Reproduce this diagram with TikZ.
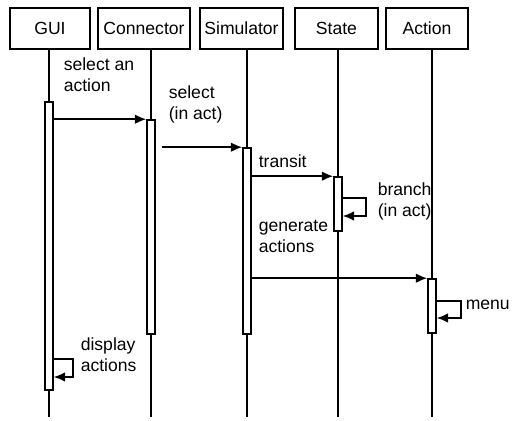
\documentclass[tikz,border=0pt]{standalone}
\usepackage{fontspec}
\setmainfont{Liberation Sans}
\usetikzlibrary{arrows.meta}
\begin{document}
\begin{tikzpicture}[x=0.02cm, y=-0.02cm, line width=0.9pt,
		object/.style = {draw, minimum height=0.82cm, inner sep=0pt, font=\fontsize{10}{12}\selectfont},
		bar/.style = {draw, fill=white, inner sep=0pt, minimum width=0.16cm},
		msg/.style = {-{Latex[length=6.5pt,width=5.5pt]}},
		lbl/.style = {anchor=base west, align=left, inner sep=0pt, font=\fontsize{10}{12}\selectfont}
	]
	\useasboundingbox (0,0) rectangle (515,421);
	% objects
	\node[object, minimum width=1.6cm]  (gui)   at (50,28.5)    {GUI};
	\node[object, minimum width=1.84cm] (conn)  at (144,28.5)   {Connector};
	\node[object, minimum width=1.66cm] (sim)   at (241.5,28.5) {Simulator};
	\node[object, minimum width=1.66cm] (state) at (336.5,28.5) {State};
	\node[object, minimum width=1.64cm] (act)   at (427,28.5)   {Action};
	% life lines
	\foreach \obj/\x in {gui/49, conn/151, sim/247, state/338, act/432}
		\draw (\obj.south -| \x,0) -- (\x,417);
	% activation bars
	\foreach \name/\x/\top/\bot in {guibar/49/102/390, connbar/151/120/334, simbar/247/148/334, statebar/338/177/231, actbar/432/279/333}
		\node[bar, minimum height={(\bot-\top)*0.02cm}] (\name) at (\x,{(\top+\bot)/2}) {};
	% messages
	\draw[msg] (guibar.east |- connbar.north) -- (connbar.north west);
	\node[lbl] (m1) at (63,92) {select an\\action};
	\draw[msg] ([xshift=0.12cm]connbar.east |- simbar.north) -- (simbar.north west);
	\node[lbl] (m2) at (168,120) {select\\(in act)};
	\draw[msg] (simbar.east |- statebar.north) -- (statebar.north west);
	\node[lbl] (m3) at (258,168) {transit};
	\draw[msg] (statebar.east |- 0,198) -| (366,216) -- (statebar.east |- 0,216);
	\node[lbl] (m4) at (377,217) {branch\\(in act)};
	\draw[msg] (simbar.east |- actbar.north) -- (actbar.north west);
	\node[lbl] (m5) at (258,253) {generate\\actions};
	\draw[msg] (actbar.east |- 0,301) -| (461,318) -- (actbar.east |- 0,318);
	\node[lbl] (m6) at (465,310) {menu};
	\draw[msg] (guibar.east |- 0,359) -| (73,377) -- (guibar.east |- 0,377);
	\node[lbl] (m7) at (80,372) {display\\actions};
\end{tikzpicture}
\end{document}
